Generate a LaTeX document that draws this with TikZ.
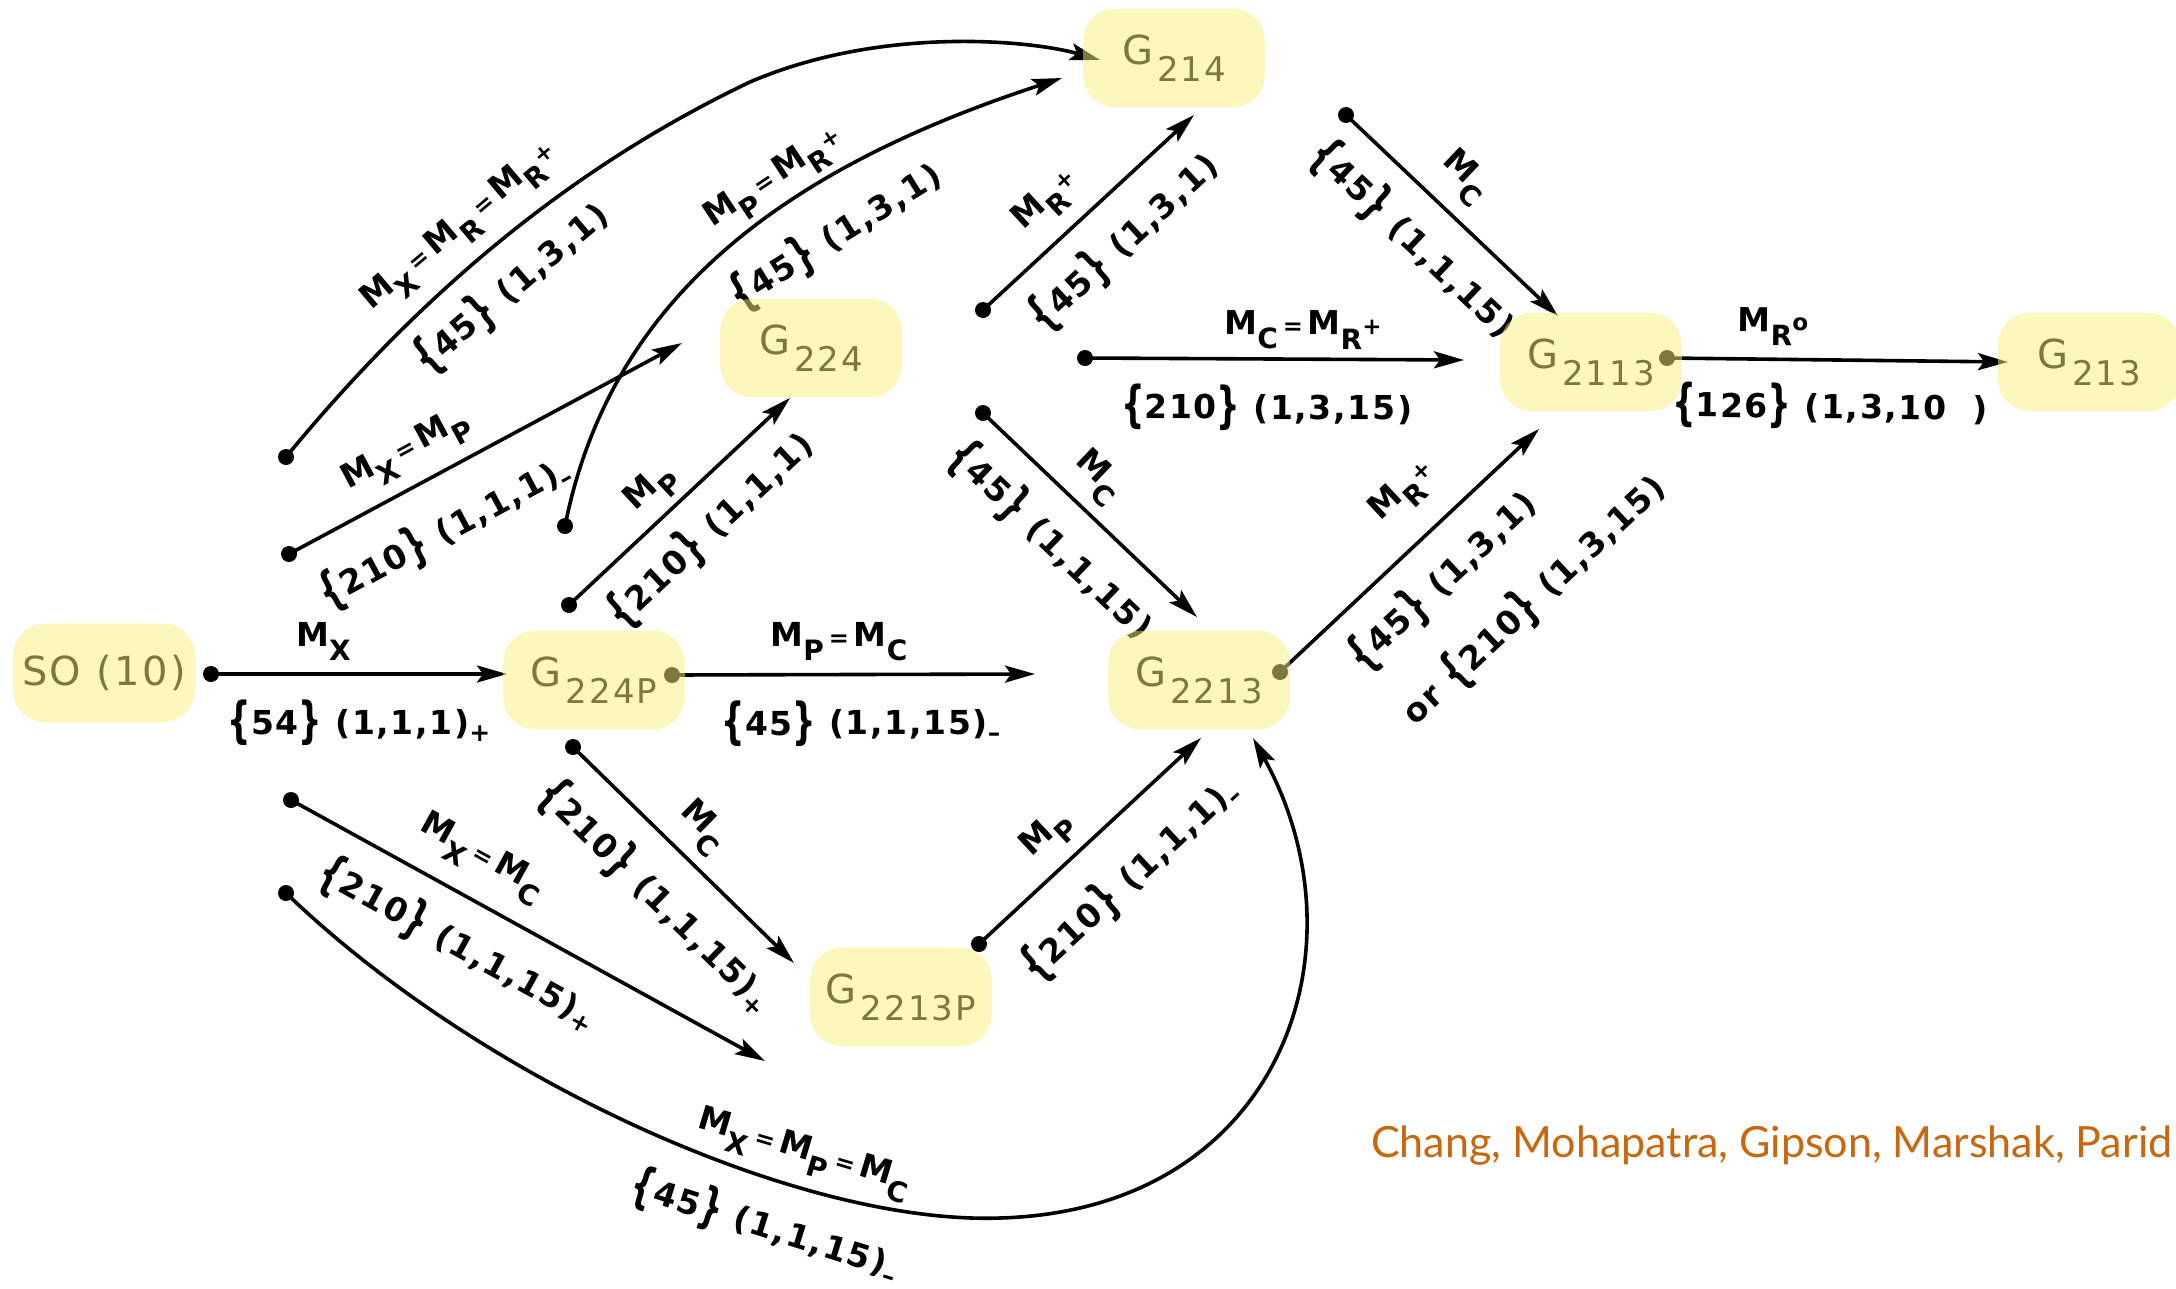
\documentclass[tikz,border=0pt]{standalone}
\usepackage{fontspec}
\usepackage{graphicx}
\setmainfont{DejaVu Sans}
\newfontfamily\labfont[LetterSpace=5]{DejaVu Sans}
\newfontfamily\grpfont[LetterSpace=6]{DejaVu Sans}
\newfontfamily\citefont{Lato}
\usetikzlibrary{arrows.meta}
\definecolor{hlyellow}{RGB}{250,240,125}
\definecolor{citeorange}{RGB}{200,104,14}
\newcommand\lsub[1]{\raisebox{-14pt}{\fontsize{28}{28}\selectfont #1}}
\newcommand\lsup[1]{\raisebox{1pt}{\fontsize{23}{23}\selectfont #1}}
\newcommand\lsgn[1]{\raisebox{-7pt}{\fontsize{25}{25}\selectfont #1}}
\newcommand\gsub[1]{\hspace{4pt}\raisebox{-17pt}{\fontsize{34}{34}\selectfont #1}}
\newcommand\eq{\hspace{5pt}{\fontsize{24}{24}\selectfont =}\hspace{5pt}}
\newcommand\LB{\raisebox{-3pt}{\scalebox{1}[1.5]{\{}}}
\newcommand\RB{\raisebox{-3pt}{\scalebox{1}[1.5]{\}}}}
\newcommand\Br[1]{\LB#1\RB}
\begin{document}
\begin{tikzpicture}[x=1pt,y=-1pt,line width=3.6pt,
  lbl/.style={font=\labfont\bfseries\fontsize{33}{40}\selectfont, inner sep=0pt},
  ab/.style={lbl, sloped, above=#1}, ab/.default=12pt,
  bl/.style={lbl, sloped, below=#1}, bl/.default=24pt,
  grp/.style={font=\grpfont\fontsize{40}{46}\selectfont, minimum width=178pt, minimum height=95pt, inner sep=0pt},
  conn/.style={-{Stealth[length=30pt,width=17pt,inset=6pt]}},
  hl/.style={fill=hlyellow, fill opacity=0.5, rounded corners=32pt}]
\fill[white] (0,0) rectangle (2176,1288);
\useasboundingbox (0,0) rectangle (2176,1288);
\clip (0,0) rectangle (2176,1288);

% group nodes
\node[grp] (so)     at (104,673)  {SO (10)};
\node[grp] (g224p)  at (594,680)  {G\gsub{224P}};
\node[grp] (g224)   at (811,348)  {G\gsub{224}};
\node[grp] (g214)   at (1174,58)  {G\gsub{214}};
\node[grp] (g2213)  at (1199,680) {G\gsub{2213}};
\node[grp] (g2213p) at (901,997)  {G\gsub{2213P}};
\node[grp] (g2113)  at (1591,362) {G\gsub{2113}};
\node[grp] (g213)   at (2089,362) {G\gsub{213}};

% connector ends
\coordinate (s1) at (211,674);   \coordinate (t1) at (507,674);
\coordinate (s2) at (672,675);   \coordinate (t2) at (1035,674);
\coordinate (s3) at (569,605);   \coordinate (t3) at (790,398);
\coordinate (s4) at (289,554);   \coordinate (t4) at (682,343);
\coordinate (s5) at (565,526);   \coordinate (t5) at (1062,78);
\coordinate (s6) at (286,457);   \coordinate (t6) at (1100,60);
\coordinate (s7) at (983,310);   \coordinate (t7) at (1194,115);
\coordinate (s8) at (1346,115);  \coordinate (t8) at (1558,316);
\coordinate (s9) at (1085,358);  \coordinate (t9) at (1464,360);
\coordinate (s10) at (1667,358); \coordinate (t10) at (2008,362);
\coordinate (s11) at (983,413);  \coordinate (t11) at (1197,617);
\coordinate (s12) at (1280,672); \coordinate (t12) at (1539,429);
\coordinate (s13) at (979,944);  \coordinate (t13) at (1201,738);
\coordinate (s14) at (573,747);  \coordinate (t14) at (794,963);
\coordinate (s15) at (291,800);  \coordinate (t15) at (765,1061);
\coordinate (s16) at (286,893);  \coordinate (t16) at (1253,738);

% connectors
\draw[conn] (s1) -- node[ab,pos=0.38]{M\lsub{X}} node[bl,pos=0.5]{\Br{54} (1,1,1)\lsgn{+}} (t1);
\draw[conn] (s2) -- node[ab,pos=0.46]{M\lsub{P}\eq M\lsub{C}} node[bl,pos=0.52]{\Br{45} (1,1,15)\lsgn{–}} (t2);
\draw[conn] (s3) -- node[ab=7pt,pos=0.46]{M\lsub{P}} node[bl=17pt,pos=0.51]{\Br{210} (1,1,1)} (t3);
\draw[conn] (s4) -- node[ab=13pt,pos=0.34]{M\lsub{X}\eq M\lsub{P}} node[bl=29pt,pos=0.33]{\Br{210} (1,1,1)\lsgn{–}} (t4);
\draw[conn] (s5) .. controls (610,300) and (780,170) .. node[ab=6pt,pos=0.62]{M\lsub{P}\eq M\lsub{R}\lsup{+}} node[bl=28pt,pos=0.65]{\Br{45} (1,3,1)} (t5);
\draw[conn] (s6) .. controls (415,300) and (565,170) .. node[ab=14pt,pos=0.47]{M\lsub{X}\eq M\lsub{R}\eq M\lsub{R}\lsup{+}} node[bl=18pt,pos=0.47]{\Br{45} (1,3,1)} (750,82) .. controls (880,26) and (1030,40) .. (t6);
\draw[conn] (s7) -- node[ab=15pt,pos=0.42]{M\lsub{R}\lsup{+}} node[bl=21pt,pos=0.52]{\Br{45} (1,3,1)} (t7);
\draw[conn] (s8) -- node[ab=15pt,pos=0.44]{M\lsub{C}} node[bl=20pt,pos=0.46]{\Br{45} (1,1,15)} (t8);
\draw[conn] (s9) -- node[ab=8pt,pos=0.575]{M\lsub{C}\eq M\lsub{R}\lsup{+}} node[bl,pos=0.48]{\Br{210} (1,3,15)} (t9);
\draw[conn] (s10) -- node[ab,pos=0.31]{M\lsub{R}\lsup{o}} node[bl=22pt,pos=0.48]{\Br{126} (1,3,10\ \ )} (t10);
\draw[conn] (s11) -- node[ab=11pt,pos=0.43]{M\lsub{C}} node[bl=21pt,pos=0.465]{\Br{45} (1,1,15)} (t11);
\draw[conn] (s12) -- node[ab=25pt,pos=0.60]{M\lsub{R}\lsup{+}} node[bl=20pt,pos=0.51]{\Br{45} (1,3,1)} node[bl=96pt,pos=0.66]{or \Br{210} (1,3,15)} (t12);
\draw[conn] (s13) -- node[ab,pos=0.41]{M\lsub{P}} node[bl=30pt,pos=0.51]{\Br{210} (1,1,1)\lsgn{–}} (t13);
\draw[conn] (s14) -- node[ab=11pt,pos=0.48]{M\lsub{C}} node[bl=24pt,pos=0.53]{\Br{210} (1,1,15)\lsgn{+}} (t14);
\draw[conn] (s15) -- node[ab=19pt,pos=0.36]{M\lsub{X}\eq M\lsub{C}} node[bl=21pt,pos=0.40]{\Br{210} (1,1,15)\lsgn{+}} (t15);
\draw[conn] (s16) .. controls (480,1080) and (800,1225) .. node[ab,pos=0.70]{M\lsub{X}\eq M\lsub{P}\eq M\lsub{C}} node[bl=22pt,pos=0.68]{\Br{45} (1,1,15)\lsgn{–}} (1000,1218) .. controls (1280,1210) and (1370,950) .. (t16);

% start dots
\foreach \p in {s1,s2,s3,s4,s5,s6,s7,s8,s9,s10,s11,s12,s13,s14,s15,s16}
  \fill (\p) circle[radius=8pt];

% citation
\node[font=\citefont\fontsize{43}{50}\selectfont, text=citeorange, anchor=base east, inner sep=0pt] (cite) at (2174,1157) {Chang, Mohapatra, Gipson, Marshak, Parid};

% highlight overlays on the group nodes
\foreach \n in {so,g224p,g224,g214,g2213,g2213p,g2113,g213}
  \fill[hl] (\n.south west) rectangle (\n.north east);
\end{tikzpicture}
\end{document}
